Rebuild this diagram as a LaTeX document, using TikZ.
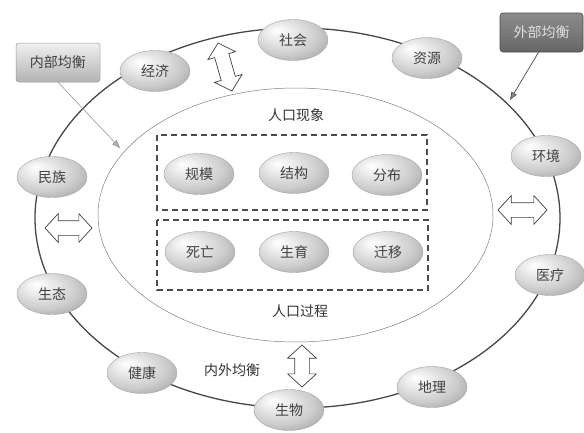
\documentclass[tikz,border=0pt]{standalone}
\usepackage{fontspec}
\newfontfamily\cjk{Noto Sans CJK SC}
\usetikzlibrary{shapes.geometric,shapes.arrows,arrows.meta,shadings}
\pgfdeclareradialshading{bubble}{\pgfpoint{-12bp}{12bp}}{%
  color(0bp)=(white); color(10bp)=(white!92!black); color(24bp)=(black!20);
  color(36bp)=(black!36); color(50bp)=(black!48)}
\begin{document}
\begin{tikzpicture}[x=1pt,y=-1pt,
  bub/.style={ellipse, minimum width=70pt, minimum height=41pt, inner sep=0pt,
    shading=bubble, draw=black!35, line width=0.4pt,
    font=\cjk\fontsize{14}{14}\selectfont, text=black!75},
  dbl/.style={double arrow, draw=black!75, fill=white, line width=0.7pt,
    inner xsep=0pt, inner ysep=7pt, double arrow head extend=7pt,
    double arrow tip angle=95},
  lbl/.style={font=\cjk\fontsize{14}{14}\selectfont, text=black!80},
  inbox/.style={rectangle, rounded corners=3pt, minimum width=84pt, minimum height=39pt,
    top color=black!6, bottom color=black!30, draw=black!40, line width=0.5pt,
    font=\cjk\fontsize{14}{14}\selectfont, text=black!75},
  exbox/.style={rectangle, rounded corners=3pt, minimum width=83pt, minimum height=39pt,
    top color=black!45, bottom color=black!60, draw=black!70, line width=0.6pt,
    font=\cjk\fontsize{14}{14}\selectfont, text=white!88!black},
  dashbox/.style={draw=black!70, line width=1.1pt, dash pattern=on 6pt off 4pt},
  outerline/.style={draw=black!72, line width=1.3pt},
  innerline/.style={draw=black!50, line width=0.5pt},
]
\useasboundingbox[fill=white] (0,0) rectangle (584,432);

% ellipses
\draw[outerline] (297.5,218) ellipse [x radius=262.5pt, y radius=190pt];
\draw[innerline] (295.5,215) ellipse [x radius=197.5pt, y radius=127pt];

% dashed groups
\draw[dashbox] (157,135) rectangle (427,210);
\draw[dashbox] (157,220) rectangle (428,290);

% outer ring nodes
\node[bub] (shehui) at (293,40) {社会};
\node[bub] (ziyuan) at (427,58) {资源};
\node[bub] (jingji) at (155,71) {经济};
\node[bub] (huanjing) at (546,156) {环境};
\node[bub] (minzu) at (52,177) {民族};
\node[bub] (shengtai) at (52,294) {生态};
\node[bub] (yiliao) at (550,275) {医疗};
\node[bub] (jiankang) at (142,373) {健康};
\node[bub] (dili) at (432,387) {地理};
\node[bub] (shengwu) at (289,410) {生物};

% inner nodes
\node[bub] (guimo) at (199,174) {规模};
\node[bub] (jiegou) at (294,173) {结构};
\node[bub] (fenbu) at (387,175) {分布};
\node[bub] (siwang) at (200,252) {死亡};
\node[bub] (shengyu) at (294,252) {生育};
\node[bub] (qianyi) at (388,252) {迁移};

% labels
\node[lbl] (xianxiang) at (296,115) {人口现象};
\node[lbl] (guocheng) at (300,311) {人口过程};
\node[lbl] (neiwai) at (232,370) {内外均衡};

% double arrows
\node[dbl, minimum height=50pt, rotate=-74] (da1) at (225,67) {};
\node[dbl, minimum height=47pt] (da2) at (68.5,228) {};
\node[dbl, minimum height=49pt] (da3) at (522.5,210) {};
\node[dbl, minimum height=42pt, rotate=90] (da4) at (302,366) {};

% balance boxes
\node[inbox] (nb) at (58,62.5) {内部均衡};
\node[exbox] (wb) at (541.5,32.5) {外部均衡};
\coordinate (nbend) at (120,148);
\coordinate (wbend) at (510,100);
\draw[black!45, line width=0.5pt, -{Triangle[length=8pt,width=6pt,fill=black!30]}] (nb.south) -- (nbend);
\draw[black!65, line width=0.8pt, -{Triangle[length=8pt,width=6pt,fill=black!45]}] ([xshift=-3pt]wb.south) -- (wbend);
\end{tikzpicture}
\end{document}
